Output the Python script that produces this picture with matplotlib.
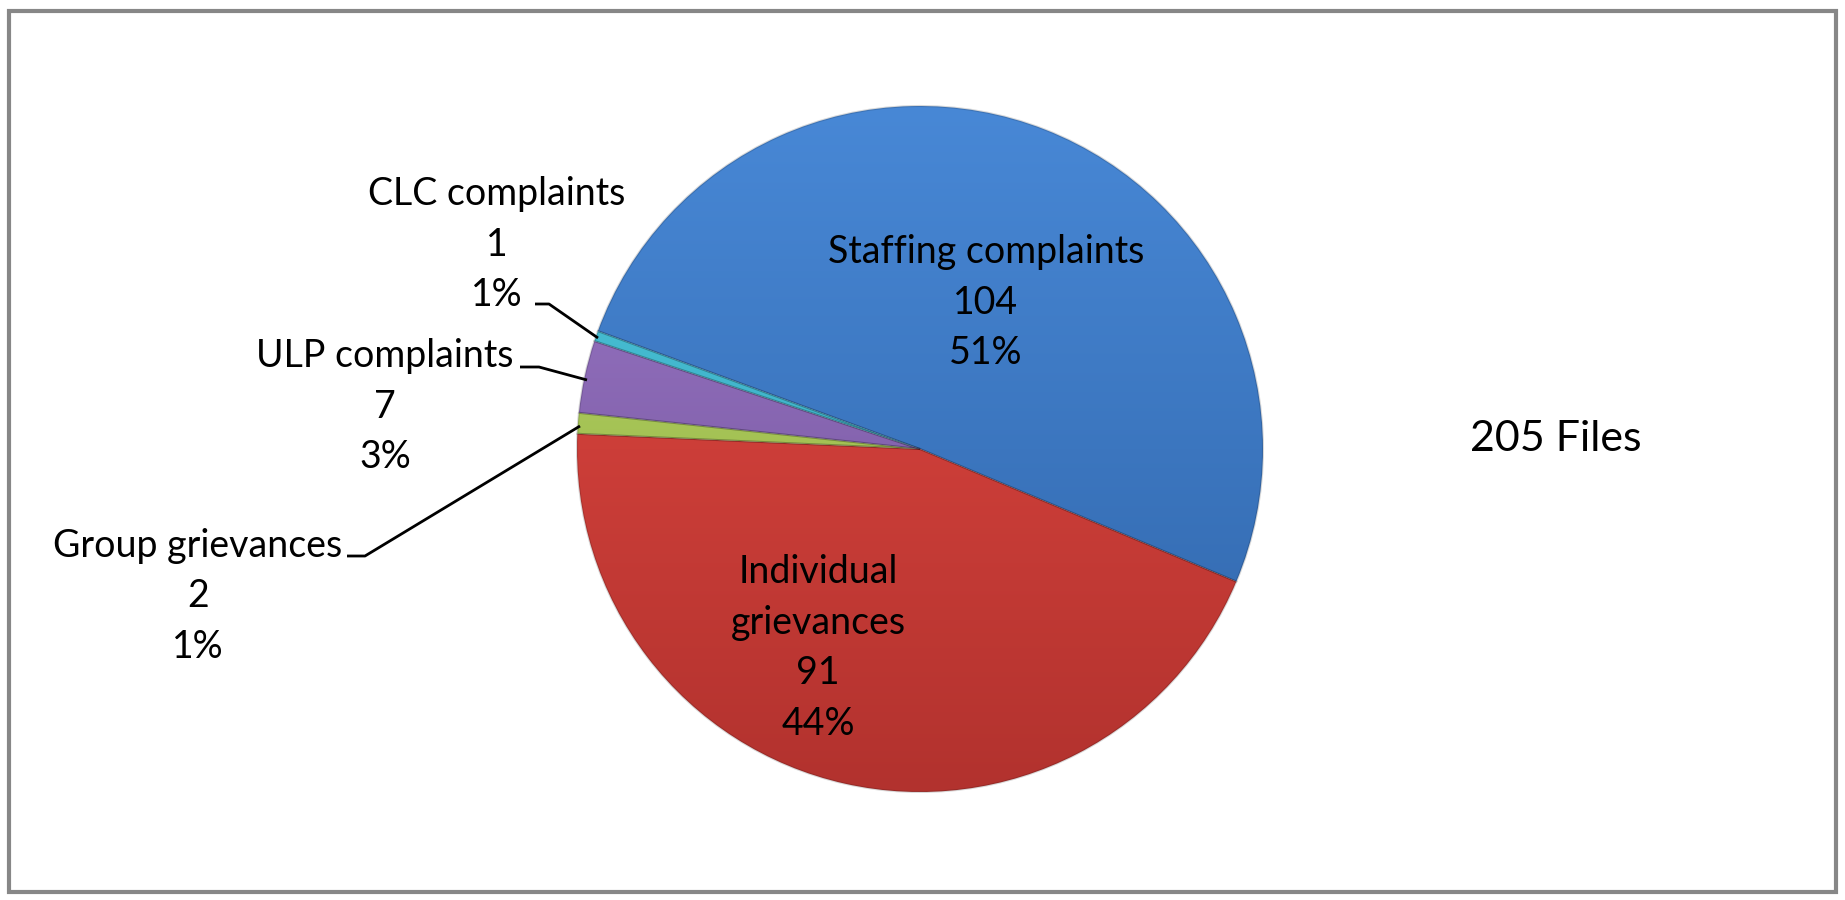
import numpy as np
import matplotlib
matplotlib.use("Agg")
import matplotlib.pyplot as plt
from matplotlib.patches import Wedge
from matplotlib.colors import to_rgb

# data
categories = ["Staffing complaints", "Individual\ngrievances", "Group grievances", "ULP complaints", "CLC complaints"]
counts = [104, 91, 2, 7, 1]
percent_labels = ["51%", "44%", "1%", "3%", "1%"]
total_label = "205 Files"

top_colors = ["#4888D6", "#E64A43", "#C8E46C", "#A07CCC", "#50CCE0"]
bottom_colors = ["#2F64A8", "#B2322E", "#7E9E3C", "#6A4C92", "#2E98B0"]

plt.rcParams['font.family'] = ['Lato', 'DejaVu Sans']

W, H = 1845, 900
fig = plt.figure(figsize=(W / 100, H / 100), dpi=100)
ax = fig.add_axes([0, 0, 1, 1])

cx, cy, r = 920, 900 - 449, 343
wedges, _ = ax.pie(counts, startangle=159.9, counterclock=False,
                   center=(cx, cy), radius=r, frame=False,
                   wedgeprops=dict(linewidth=0, edgecolor='none'))

# vertical gradient inside each wedge, imitating the bevel look
grad = np.linspace(0, 1, 256)[:, None]
for w, c0, c1 in zip(wedges, top_colors, bottom_colors):
    a, b = np.array(to_rgb(c0)), np.array(to_rgb(c1))
    img = a[None, None, :] * (1 - grad[:, :, None]) + b[None, None, :] * grad[:, :, None]
    img = np.repeat(img, 2, axis=1)
    w.set_facecolor('none')
    im = ax.imshow(img, extent=(cx - r, cx + r, cy - r, cy + r), origin='upper',
                   interpolation='bilinear', zorder=1, aspect='auto')
    im.set_clip_path(w)
    ax.add_patch(Wedge(w.center, w.r, w.theta1, w.theta2,
                       facecolor='none', edgecolor=(0, 0, 0, 0.15), linewidth=1.5, zorder=2))

fs = 27
kw = dict(ha='center', va='center', fontsize=fs, color='black', linespacing=1.5, zorder=5)

def label(i, x, y):
    ax.text(x, H - y, f"{categories[i]}\n{counts[i]}\n{percent_labels[i]}", **kw)

label(0, 986, 303)
label(1, 818, 648)
label(2, 198, 596)
label(3, 385, 407)
label(4, 497, 245)

ax.text(1556, H - 439, total_label, ha='center', va='center', fontsize=31, color='black')

# leader lines
leaders = [
    [(535, 304), (549, 304), (598, 338)],
    [(520, 367), (539, 367), (587, 380)],
    [(347, 556), (365, 556), (580, 426)],
]
for pts in leaders:
    xs = [p[0] for p in pts]
    ys = [H - p[1] for p in pts]
    ax.plot(xs, ys, color='black', linewidth=2, zorder=4, solid_capstyle='butt')

# outer border
ax.add_patch(plt.Rectangle((9, H - 892), 1827, 881, fill=False,
                           edgecolor='#878787', linewidth=3, zorder=6))

ax.set_xlim(0, W)
ax.set_ylim(0, H)
ax.set_aspect('equal')
ax.axis('off')

fig.savefig("out.png", dpi=100)
